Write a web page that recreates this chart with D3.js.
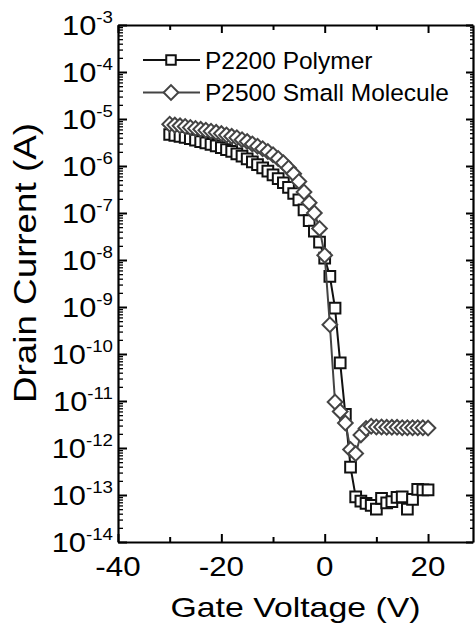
<!DOCTYPE html>
<html>
<head>
<meta charset="utf-8">
<script src="https://cdn.jsdelivr.net/npm/d3@7"></script>
<style>
  html, body { margin: 0; padding: 0; background: #fff; }
  svg { display: block; }
  text { font-family: "Liberation Sans", Arial, Helvetica, sans-serif; fill: #000; }
</style>
</head>
<body>
<svg id="chart" width="476" height="624"></svg>
<script>
// Gate voltage sweep (V)
const gateVoltage = [-30,-29,-28,-27,-26,-25,-24,-23,-22,-21,-20,-19,-18,-17,-16,-15,-14,-13,-12,-11,
  -10,-9,-8,-7,-6,-5,-4,-3,-2,-1,0,1,2,3,4,5,6,7,8,9,10,11,12,13,14,15,16,17,18,19,20];

// Drain current (A), P2200 polymer dielectric
const polymerCurrent = [4.68e-6,4.47e-6,4.27e-6,4.07e-6,3.80e-6,3.55e-6,3.31e-6,3.09e-6,2.88e-6,2.69e-6,
  2.45e-6,2.24e-6,2.04e-6,1.82e-6,1.62e-6,1.41e-6,1.23e-6,1.07e-6,9.1e-7,7.8e-7,
  6.5e-7,5.4e-7,4.4e-7,3.5e-7,2.6e-7,1.9e-7,1.17e-7,6.9e-8,4.1e-8,2.4e-8,
  1.1e-8,4.5e-9,9.5e-10,6.5e-11,5.2e-12,3.9e-13,9.1e-14,7.4e-14,6.6e-14,6.0e-14,
  5.0e-14,8.5e-14,6.8e-14,7.2e-14,8.9e-14,9.1e-14,5.0e-14,8.1e-14,1.32e-13,1.29e-13,1.29e-13];

// Drain current (A), P2500 small-molecule dielectric
const smallMoleculeCurrent = [7.76e-6,7.41e-6,7.16e-6,6.92e-6,6.61e-6,6.31e-6,6.03e-6,5.75e-6,5.50e-6,5.19e-6,
  4.90e-6,4.57e-6,4.27e-6,3.98e-6,3.63e-6,3.31e-6,2.95e-6,2.63e-6,2.34e-6,2.04e-6,
  1.74e-6,1.45e-6,1.17e-6,9.1e-7,6.8e-7,4.7e-7,2.8e-7,1.66e-7,1.0e-7,4.7e-8,
  1.26e-8,4.2e-10,9.5e-12,6.0e-12,3.4e-12,9.3e-13,7.6e-13,1.9e-12,2.6e-12,2.9e-12,
  2.8e-12,2.8e-12,2.75e-12,2.75e-12,2.75e-12,2.7e-12,2.7e-12,2.7e-12,2.7e-12,2.7e-12,2.65e-12];

const seriesNames = ["P2200 Polymer", "P2500 Small Molecule"];
const xTickValues = [-40, -20, 0, 20];
const xMinorTickValues = [-30, -10, 10];
const yTickExponents = [-3,-4,-5,-6,-7,-8,-9,-10,-11,-12,-13,-14];

const svg = d3.select("#chart");
const plotLeft = 118, plotRight = 473, plotTop = 25, plotBottom = 542;

const x = d3.scaleLinear().domain([-40, 28.7]).range([plotLeft, plotRight]);
const y = d3.scaleLog().domain([1e-14, 1e-3]).range([plotBottom, plotTop]);

// minor log ticks (2..9 within each decade)
const minorY = [];
for (let e = -14; e < -3; e++) {
  for (let m = 2; m <= 9; m++) minorY.push(m * Math.pow(10, e));
}
const majorY = yTickExponents.map(e => Math.pow(10, e));

function styleAxis(g, w) {
  g.selectAll("path.domain").attr("stroke", "#000").attr("stroke-width", 2.2);
  g.selectAll(".tick line").attr("stroke", "#000").attr("stroke-width", w);
  g.selectAll(".tick text").remove();
}

// left axis (ticks point inward)
svg.append("g").attr("transform", `translate(${plotLeft},0)`)
  .call(d3.axisLeft(y).tickValues(majorY).tickSizeInner(-9).tickSizeOuter(0).tickFormat(""))
  .call(g => styleAxis(g, 2));
svg.append("g").attr("transform", `translate(${plotLeft},0)`)
  .call(d3.axisLeft(y).tickValues(minorY).tickSizeInner(-5).tickSizeOuter(0).tickFormat(""))
  .call(g => { styleAxis(g, 1.3); g.select("path.domain").remove(); });

// right axis
svg.append("g").attr("transform", `translate(${plotRight},0)`)
  .call(d3.axisRight(y).tickValues(majorY).tickSizeInner(-7).tickSizeOuter(0).tickFormat(""))
  .call(g => styleAxis(g, 2));
svg.append("g").attr("transform", `translate(${plotRight},0)`)
  .call(d3.axisRight(y).tickValues(minorY).tickSizeInner(-3).tickSizeOuter(0).tickFormat(""))
  .call(g => { styleAxis(g, 1.3); g.select("path.domain").remove(); });

// bottom axis
svg.append("g").attr("transform", `translate(0,${plotBottom})`)
  .call(d3.axisBottom(x).tickValues(xTickValues).tickSizeInner(-8).tickSizeOuter(0).tickFormat(""))
  .call(g => styleAxis(g, 2));
svg.append("g").attr("transform", `translate(0,${plotBottom})`)
  .call(d3.axisBottom(x).tickValues(xMinorTickValues).tickSizeInner(-5).tickSizeOuter(0).tickFormat(""))
  .call(g => { styleAxis(g, 2); g.select("path.domain").remove(); });

// top axis
svg.append("g").attr("transform", `translate(0,${plotTop})`)
  .call(d3.axisTop(x).tickValues(xTickValues).tickSizeInner(-8).tickSizeOuter(0).tickFormat(""))
  .call(g => styleAxis(g, 2));
svg.append("g").attr("transform", `translate(0,${plotTop})`)
  .call(d3.axisTop(x).tickValues(xMinorTickValues).tickSizeInner(-5).tickSizeOuter(0).tickFormat(""))
  .call(g => { styleAxis(g, 2); g.select("path.domain").remove(); });

// y tick labels: 10 with superscript exponent
const yLabels = svg.append("g");
yTickExponents.forEach(e => {
  const t = yLabels.append("text")
    .attr("transform", `translate(113,${y(Math.pow(10, e)) + 10}) scale(1.1,1)`)
    .attr("text-anchor", "end")
    .attr("font-size", 28);
  t.append("tspan").text("10");
  t.append("tspan").attr("dy", -12).attr("font-size", 17).text(String(e));
});

// x tick labels
xTickValues.forEach(v => {
  svg.append("text")
    .attr("transform", `translate(${x(v)},${576}) scale(1.12,1)`)
    .attr("text-anchor", "middle")
    .attr("font-size", 28)
    .text(v);
});

// axis titles
svg.append("text")
  .attr("x", (plotLeft + plotRight) / 2).attr("y", 617)
  .attr("text-anchor", "middle").attr("font-size", 28)
  .attr("textLength", 250).attr("lengthAdjust", "spacingAndGlyphs")
  .text("Gate Voltage (V)");
svg.append("text")
  .attr("transform", `translate(36,263) rotate(-90)`)
  .attr("text-anchor", "middle").attr("font-size", 31)
  .attr("textLength", 280).attr("lengthAdjust", "spacingAndGlyphs")
  .text("Drain Current (A)");

// data series
const series = [
  { name: seriesNames[0], values: polymerCurrent, color: "#111", symbol: d3.symbolSquare, size: 115, rot: 0 },
  { name: seriesNames[1], values: smallMoleculeCurrent, color: "#444", symbol: d3.symbolSquare, size: 108, rot: 45 }
];

const line = d3.line().x(d => x(d[0])).y(d => y(d[1]));

series.forEach(s => {
  const pts = gateVoltage.map((v, i) => [v, s.values[i]]);
  svg.append("path").datum(pts)
    .attr("d", line).attr("fill", "none")
    .attr("stroke", s.color).attr("stroke-width", 2);
  svg.append("g").selectAll("path").data(pts).join("path")
    .attr("d", d3.symbol(s.symbol, s.size))
    .attr("transform", d => `translate(${x(d[0])},${y(d[1])}) rotate(${s.rot})`)
    .attr("fill", "#fff").attr("stroke", s.color).attr("stroke-width", 2);
});

// legend
const legend = svg.append("g");
series.forEach((s, i) => {
  const ly = i === 0 ? 60 : 92.5;
  legend.append("line").attr("x1", 143).attr("x2", 200).attr("y1", ly).attr("y2", ly)
    .attr("stroke", s.color).attr("stroke-width", 2);
  legend.append("path").attr("d", d3.symbol(s.symbol, i === 0 ? 90 : s.size))
    .attr("transform", `translate(171,${ly}) rotate(${s.rot})`)
    .attr("fill", "#fff").attr("stroke", s.color).attr("stroke-width", 2);
  legend.append("text").attr("x", 205).attr("y", ly + 8.5)
    .attr("font-size", 24.5).text(s.name);
});
</script>
</body>
</html>
